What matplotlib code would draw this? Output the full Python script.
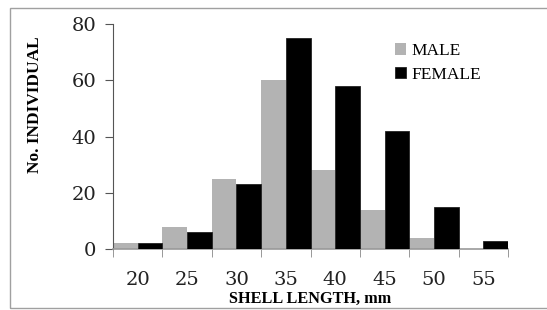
import matplotlib
matplotlib.use("Agg")
import matplotlib.pyplot as plt
from matplotlib.patches import Rectangle
import numpy as np

# shell length classes (mm) and counts
lengths = ["20", "25", "30", "35", "40", "45", "50", "55"]
male = [2, 8, 25, 60, 28, 14, 4, 0]
female = [2, 6, 23, 75, 58, 42, 15, 3]
yticks = [0, 20, 40, 60, 80]

plt.rcParams["font.family"] = ["Liberation Serif", "DejaVu Serif"]

fig = plt.figure(figsize=(5.47, 3.10), dpi=100)
fig.patches.append(Rectangle((10 / 547, 0.005), 1.2, 1 - 8 / 310 - 0.005,
                             transform=fig.transFigure, fill=False,
                             edgecolor="#a0a0a0", linewidth=1.0))

ax = fig.add_axes([113 / 547, 1 - 249 / 310, (508 - 113) / 547, (249 - 24) / 310])

x = np.arange(len(lengths))
w = 0.5
ax.bar(x - w / 2, male, width=w, color="#b3b3b3", edgecolor="none",
       label="MALE", zorder=2)
ax.bar(x + w / 2, female, width=w, color="black", edgecolor="#222222",
       linewidth=0.6, label="FEMALE", zorder=3)

ax.set_xlim(-0.5, len(lengths) - 0.5)
ax.set_ylim(0, 80)
ax.set_yticks(yticks)
ax.set_xticks(x)
ax.set_xticklabels(lengths)
ax.set_xticks(np.arange(len(lengths) + 1) - 0.5, minor=True)
ax.tick_params(axis="x", which="major", length=0, pad=16, labelsize=14)
ax.tick_params(axis="x", which="minor", length=6, color="#888888", direction="out")
ax.tick_params(axis="y", length=6, color="#555555", labelsize=14, pad=6)
for lbl in ax.get_xticklabels() + ax.get_yticklabels():
    lbl.set_family("DejaVu Serif")
    lbl.set_color("#222222")

for s in ["top", "right"]:
    ax.spines[s].set_visible(False)
ax.spines["left"].set_color("#555555")
ax.spines["bottom"].set_color("#999999")
ax.spines["bottom"].set_linewidth(1.2)

ax.set_ylabel("No. INDIVIDUAL", fontweight="bold", fontsize=12.5)
ax.yaxis.set_label_coords(-0.177, 0.64)
ax.set_xlabel("SHELL LENGTH, mm", fontweight="bold", fontsize=11.7)
ax.xaxis.set_label_coords(0.5, -0.188)

ax.legend(loc="upper left", bbox_to_anchor=(0.715, 0.915), frameon=False,
          fontsize=12.5, handlelength=0.6, handleheight=0.6, handletextpad=0.3,
          labelspacing=0.45, borderaxespad=0, borderpad=0)

fig.savefig("out.png", dpi=100)
